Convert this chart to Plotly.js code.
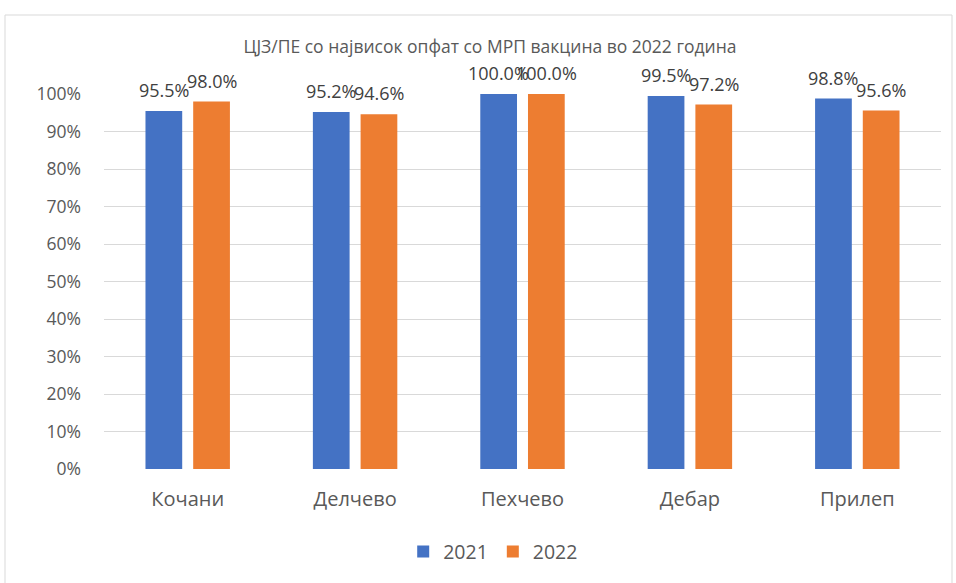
<!DOCTYPE html>
<html>
<head>
<meta charset="utf-8">
<script src="https://cdn.plot.ly/plotly-3.0.1.min.js"></script>
<style>html,body{margin:0;padding:0;background:#fff;} #chart{width:956px;height:583px;}</style>
</head>
<body>
<div id="chart"></div>
<script>
const categories = ["Кочани", "Делчево", "Пехчево", "Дебар", "Прилеп"];
const seriesNames = ["2021", "2022"];
const values2021 = [0.955, 0.952, 1.000, 0.995, 0.988];
const values2022 = [0.980, 0.946, 1.000, 0.972, 0.956];
const yTickVals = [0, 0.1, 0.2, 0.3, 0.4, 0.5, 0.6, 0.7, 0.8, 0.9, 1.0];
const yTickText = ["0%", "10%", "20%", "30%", "40%", "50%", "60%", "70%", "80%", "90%", "100%"];
const titleText = "ЦЈЗ/ПЕ со највисок опфат со МРП вакцина во 2022 година";

const FONT = "Open Sans, Noto Sans, DejaVu Sans, sans-serif";
const GREY = "#595959";
const colors = ["#4472C4", "#ED7D31"];
const series = [values2021, values2022];

const traces = series.map((vals, i) => ({
  type: "bar",
  name: seriesNames[i],
  x: categories,
  y: vals,
  marker: {color: colors[i]},
  hoverinfo: "none"
}));

const annotations = [];
series.forEach((vals, i) => {
  vals.forEach((v, j) => {
    annotations.push({
      x: categories[j], y: v, xref: "x", yref: "y",
      text: (v * 100).toFixed(1) + "%",
      showarrow: false,
      xshift: i === 0 ? -24 : 24,
      yshift: 21,
      yanchor: "middle",
      font: {family: FONT, size: 18, color: "#404040"}
    });
  });
});

const layout = {
  width: 956, height: 583,
  margin: {l: 104, r: 15, t: 94, b: 114},
  paper_bgcolor: "#fff", plot_bgcolor: "#fff",
  title: {
    text: titleText,
    font: {family: FONT, size: 17.5, color: GREY},
    x: 490 / 956, xanchor: "center", xref: "container",
    y: 1 - 47 / 583, yanchor: "middle", yref: "container"
  },
  barmode: "group",
  bargap: 0.43,
  bargroupgap: 0.23,
  showlegend: true,
  legend: {
    orientation: "h", x: 0.465, xanchor: "center", y: -0.221, yanchor: "middle",
    font: {family: FONT, size: 19.5, color: GREY},
    itemwidth: 30, traceorder: "normal"
  },
  xaxis: {
    type: "category",
    showgrid: false, zeroline: false, showline: false, ticks: "",
    ticklabelstandoff: 16,
    tickfont: {family: FONT, size: 20, color: GREY},
    fixedrange: true
  },
  yaxis: {
    range: [0, 1],
    tickvals: yTickVals, ticktext: yTickText,
    showgrid: true, gridcolor: "#D9D9D9", gridwidth: 1,
    zeroline: false, showline: false, ticks: "",
    ticklabelstandoff: 22,
    tickfont: {family: FONT, size: 17.5, color: GREY},
    fixedrange: true
  },
  annotations: annotations,
  shapes: [{
    type: "rect", xref: "paper", yref: "paper",
    x0: (5 - 104) / 837, x1: (952 - 104) / 837,
    y0: (469 - 600) / 375, y1: (469 - 15) / 375,
    line: {color: "#D9D9D9", width: 1}, fillcolor: "rgba(0,0,0,0)", layer: "below"
  }]
};

Plotly.newPlot("chart", traces, layout, {staticPlot: true, displayModeBar: false});
</script>
</body>
</html>
